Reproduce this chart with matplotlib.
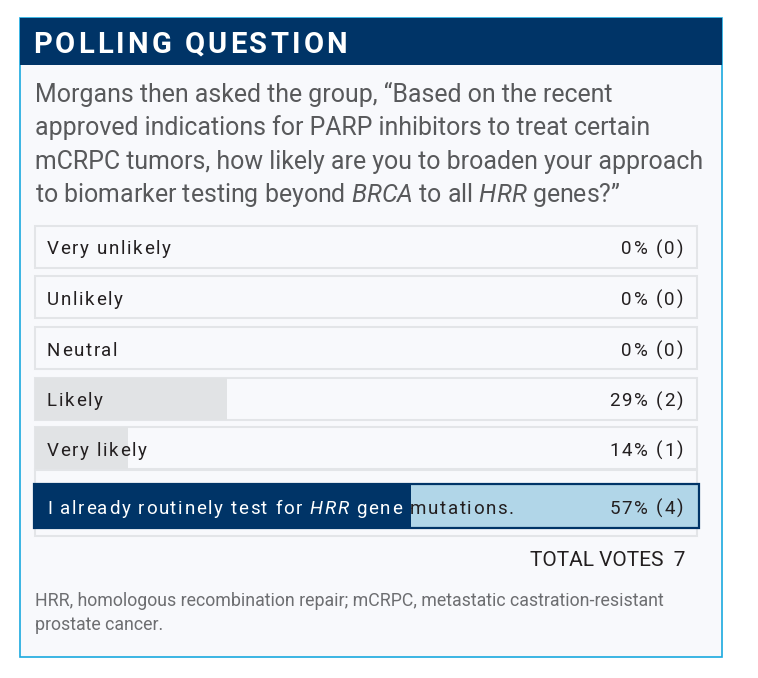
import matplotlib
matplotlib.use("Agg")
import matplotlib.pyplot as plt
from matplotlib.patches import Rectangle

plt.rcParams['font.family'] = ['Roboto', 'DejaVu Sans']
plt.rcParams['mathtext.fontset'] = 'custom'
plt.rcParams['mathtext.rm'] = 'Roboto'
plt.rcParams['mathtext.it'] = 'Roboto:italic'

# data
answers = [[("Very unlikely", "normal")],
           [("Unlikely", "normal")],
           [("Neutral", "normal")],
           [("Likely", "normal")],
           [("Very likely", "normal")],
           [("I already routinely test for ", "normal"), ("HRR", "italic"), (" gene mutations.", "normal")]]
percents = [0, 0, 0, 29, 14, 57]
votes = [0, 0, 0, 2, 1, 4]
total_votes = 7
question = ["Morgans then asked the group, \u201cBased on the recent",
            "approved indications for PARP inhibitors to treat certain",
            "mCRPC tumors, how likely are you to broaden your approach",
            r"to biomarker testing beyond $\mathit{BRCA}$ to all $\mathit{HRR}$ genes?" + "\u201d"]
footnote = ["HRR, homologous recombination repair; mCRPC, metastatic castration-resistant",
            "prostate cancer."]

NAVY = "#003467"
CYAN = "#1aa9df"
BG = "#f8f9fc"
BORDER = "#e3e5e8"
GRAY_BAR = "#e1e3e5"
LIGHT_BLUE = "#b1d6e8"
DARK = "#231f20"

W, H = 758, 678
fig = plt.figure(figsize=(W / 100, H / 100), dpi=100)
ax = fig.add_axes([0, 0, 1, 1])
ax.set_xlim(0, W)
ax.set_ylim(H, 0)
ax.axis('off')
renderer = fig.canvas.get_renderer()


def text_width(s, **kw):
    t = ax.text(0, 0, s, **kw)
    w = t.get_window_extent(renderer).width
    t.remove()
    return w


def advance(s, **kw):
    if not s:
        return 0
    return text_width(s + "x", **kw) - text_width("x", **kw)


# texto con espaciado entre letras (tracking), opcionalmente recortado a un rectangulo
def spaced_text(x, y, segments, track, clip=None, **kw):
    for seg, style in segments:
        for i, ch in enumerate(seg):
            if ch != ' ':
                cx = x + advance(seg[:i], style=style, **kw) + i * track
                t = ax.text(cx, y, ch, style=style, ha='left', va='baseline', **kw)
                if clip is not None:
                    t.set_clip_path(clip)
                    t.set_clip_on(True)
        x += advance(seg, style=style, **kw) + len(seg) * track
    return x


# igual pero alineado a la derecha en x_right
def spaced_text_right(x_right, y, s, track, **kw):
    w = text_width(s, **kw) + (len(s) - 1) * track
    spaced_text(x_right - w, y, [(s, "normal")], track, **kw)


# card
ax.add_patch(Rectangle((19.5, 17.5), 702, 639, facecolor=BG, edgecolor=CYAN, lw=1.2, zorder=0))
ax.add_patch(Rectangle((19.5, 17.5), 702, 47, facecolor=NAVY, edgecolor='none', zorder=1))
spaced_text(33, 53, [("POLLING QUESTION", "normal")], 3.1,
            color='white', fontsize=21, fontweight='bold', zorder=2)

for i, line in enumerate(question):
    ax.text(35, 102 + i * 33.4, line, color="#58595b", fontsize=17.9, va='baseline', ha='left')

# bars
left = 35
track = 662
row_y = [246.5, 297, 347.5, 398.5, 448, 506]
row_h = 42
lab_kw = dict(fontsize=13.5, zorder=3)
for i, (segs, pct, v) in enumerate(zip(answers, percents, votes)):
    y = row_y[i]
    last = i == len(answers) - 1
    if last:
        ax.add_patch(Rectangle((left, 470), track, 66, facecolor=BG, edgecolor=BORDER, lw=1.5, zorder=0.5))
        ax.add_patch(Rectangle((left - 1, y - 22), track + 3, 44, facecolor=LIGHT_BLUE,
                               edgecolor=NAVY, lw=1.6, zorder=1))
        bars = ax.barh([y], [pct / 100 * track], left=left - 1, height=44, color=NAVY, zorder=2)
        clip_light = Rectangle((left - 1 + pct / 100 * track, y - 22), track * (1 - pct / 100) + 3, 44,
                               transform=ax.transData)
        spaced_text(47, y + 8, segs, 1.6, clip=bars[0], color='white', **lab_kw)
        spaced_text(47, y + 8, segs, 1.6, clip=clip_light, color=DARK, **lab_kw)
    else:
        ax.add_patch(Rectangle((left, y - row_h / 2), track, row_h, facecolor=BG,
                               edgecolor=BORDER, lw=1.5, zorder=1))
        ax.barh([y], [pct / 100 * track], left=left, height=row_h, color=GRAY_BAR, zorder=2)
        spaced_text(47, y + 8, segs, 1.6, color=DARK, **lab_kw)
    spaced_text_right(683, y + 8, f"{pct}% ({v})", 1.8, color=DARK, **lab_kw)

ax.text(685, 566, f"TOTAL VOTES  {total_votes}", color=DARK, fontsize=15, va='baseline', ha='right')
for i, line in enumerate(footnote):
    ax.text(35, 606 + i * 24, line, color="#6d6e71", fontsize=12.75, va='baseline', ha='left')

fig.savefig("out.png", dpi=100, facecolor='white')
